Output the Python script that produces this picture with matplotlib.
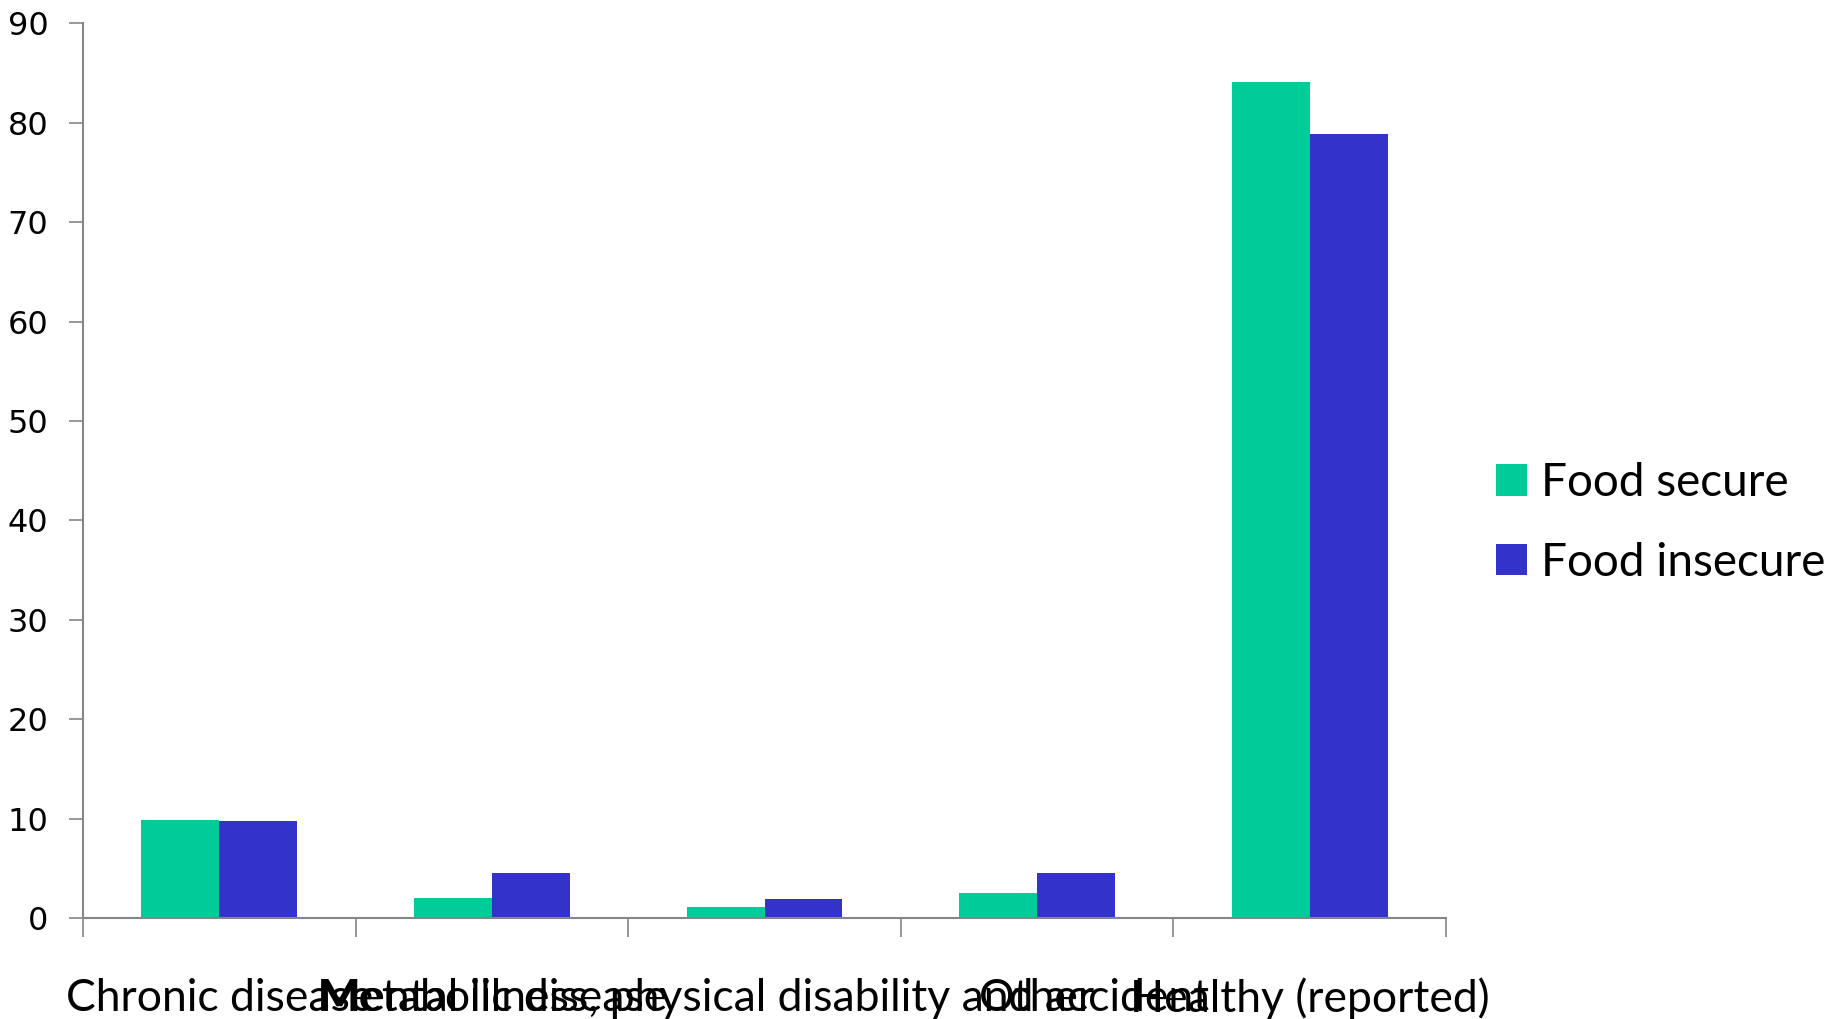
import matplotlib
matplotlib.use("Agg")
import matplotlib.pyplot as plt
import numpy as np

categories = [
    "Chronic disease",
    "Metabolic disease",
    "Mental illness, physical disability and accident",
    "Other",
    "Healthy (reported)",
]
food_secure = [9.83, 2.05, 1.15, 2.52, 84.1]
food_insecure = [9.73, 4.57, 1.88, 4.57, 78.9]
series_labels = ["Food secure", "Food insecure"]
yticks = [0, 10, 20, 30, 40, 50, 60, 70, 80, 90]

green = "#00CC99"
blue = "#3333CC"
axis_gray = "#868686"
label_font = ["Lato", "DejaVu Sans"]

fig = plt.figure(figsize=(18.48, 10.19), dpi=100)
ax = fig.add_axes([0.0449, 0.0991, 0.7376, 0.878])

x = np.arange(len(categories))
w = 0.286
ax.bar(x - w / 2, food_secure, width=w, color=green, label=series_labels[0], zorder=2)
ax.bar(x + w / 2, food_insecure, width=w, color=blue, label=series_labels[1], zorder=2)

ax.set_xlim(-0.5, len(categories) - 0.5)
ax.set_ylim(0, 90)
ax.set_yticks(yticks)
ax.set_yticklabels([str(v) for v in yticks], fontsize=23, family="DejaVu Sans")
ax.tick_params(axis="y", length=10, width=1.2, color=axis_gray, pad=15)

# boundary ticks on the category axis, labels centred under each group
ax.set_xticks(np.arange(len(categories) + 1) - 0.5)
ax.set_xticklabels([])
ax.tick_params(axis="x", which="major", length=14, width=1.2, color=axis_gray)
ax.set_xticks(x, minor=True)
ax.set_xticklabels(categories, minor=True, fontsize=32, family=label_font)
ax.tick_params(axis="x", which="minor", length=0, pad=43)

for side in ["top", "right"]:
    ax.spines[side].set_visible(False)
for side in ["left", "bottom"]:
    ax.spines[side].set_color(axis_gray)
    ax.spines[side].set_linewidth(1.5)

ax.legend(
    loc="center left",
    bbox_to_anchor=(0.8095, 0.487),
    bbox_transform=fig.transFigure,
    frameon=False,
    prop={"family": label_font, "size": 33},
    handlelength=0.68,
    handleheight=0.68,
    handletextpad=0.3,
    labelspacing=0.82,
    borderaxespad=0,
    borderpad=0,
)

fig.savefig("out.png", dpi=100, facecolor="white")
